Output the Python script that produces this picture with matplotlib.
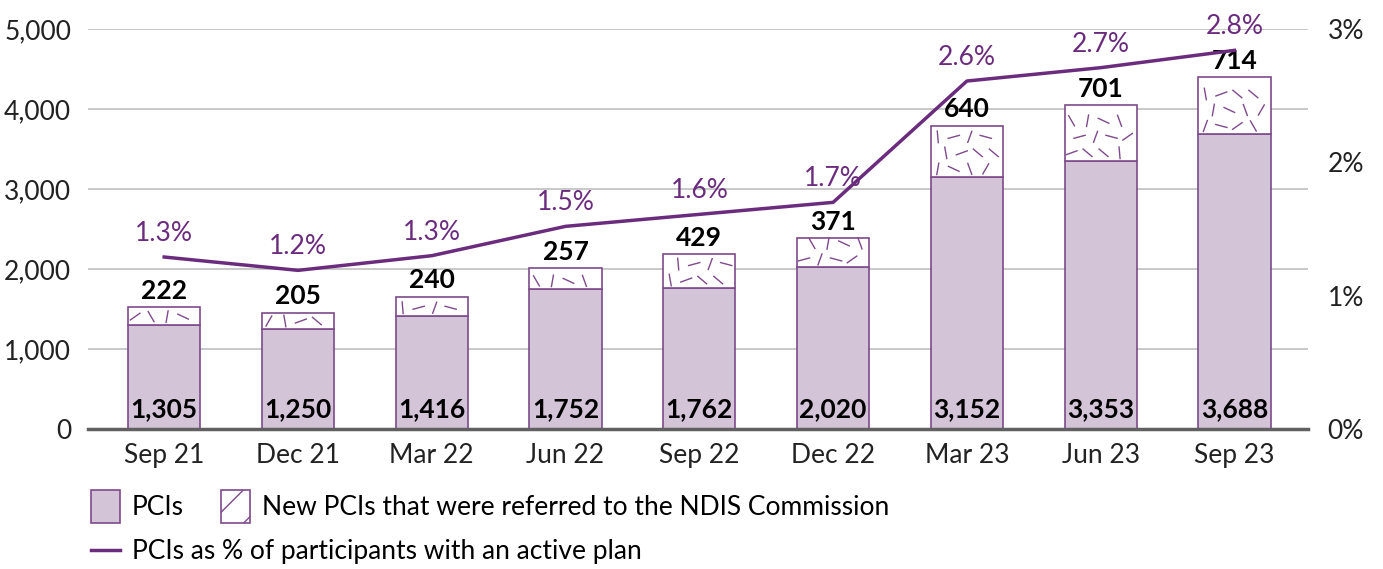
import numpy as np
import matplotlib.pyplot as plt
from matplotlib.patches import Patch
from matplotlib.lines import Line2D
from matplotlib.collections import LineCollection
from matplotlib.ticker import FuncFormatter

plt.rcParams['font.family'] = ['Lato', 'DejaVu Sans']
plt.rcParams['hatch.color'] = "#7E4A8C"

quarters = ["Sep 21", "Dec 21", "Mar 22", "Jun 22", "Sep 22", "Dec 22", "Mar 23", "Jun 23", "Sep 23"]
pcis = [1305, 1250, 1416, 1752, 1762, 2020, 3152, 3353, 3688]
referred = [222, 205, 240, 257, 429, 371, 640, 701, 714]
pct_active = [1.29, 1.19, 1.30, 1.52, 1.61, 1.70, 2.61, 2.71, 2.84]

fill_col = "#D4C4D8"
edge_col = "#7E4A8C"
line_col = "#6B2C7E"
fs = 19

fig = plt.figure(figsize=(13.83, 5.69), dpi=100)
ax = fig.add_axes([0.0636, 0.246, 0.8822, 0.703])
ax2 = ax.twinx()

x = np.arange(len(quarters))
w = 0.54
b1 = ax.bar(x, pcis, w, color=fill_col, edgecolor=edge_col, linewidth=1.2, zorder=3)
b2 = ax.bar(x, referred, w, bottom=pcis, color="white", edgecolor=edge_col, linewidth=1.2, zorder=3)

ax.set_xlim(-0.57, len(quarters) - 0.45)
ax.set_ylim(0, 5000)
ax.set_yticks(range(0, 5001, 1000))
ax.yaxis.set_major_formatter(FuncFormatter(lambda v, p: f"{int(v):,}"))
ax.grid(axis="y", color="#BFBFBF", linewidth=1.2, zorder=0)
ax.set_axisbelow(True)
for s in ["top", "right", "left"]:
    ax.spines[s].set_visible(False)
ax.spines["bottom"].set_color("#606060")
ax.spines["bottom"].set_linewidth(2.5)
ax.spines["bottom"].set_zorder(5)
ax.tick_params(axis="y", length=0, pad=12, labelsize=fs, labelcolor="#222222")
ax.tick_params(axis="x", length=0, pad=10, labelsize=fs, labelcolor="#222222")
ax.set_xticks(x)
ax.set_xticklabels(quarters)

# dash texture inside the top segments (decorative, fixed pattern)
fig.canvas.draw()
angles = [35, -60, 80, -25, 110, 60, -80, 20, 140, -40, 95, 15, 70, -15]
inv = ax.transData.inverted()
for i, bar in enumerate(b2):
    x0, y0 = bar.get_x(), bar.get_y()
    x1, y1 = x0 + bar.get_width(), y0 + bar.get_height()
    p0 = ax.transData.transform((x0, y0))
    p1 = ax.transData.transform((x1, y1))
    segs = []
    k = i * 5
    yy = p0[1] + 8
    row = 0
    while yy < p1[1] - 2:
        xx = p0[0] + 7 + (row % 2) * 8
        while xx < p1[0] - 2:
            a = np.deg2rad(angles[k % len(angles)])
            d = 6.5 * np.array([np.cos(a), np.sin(a)])
            c = np.array([xx, yy])
            segs.append(inv.transform([c - d, c + d]))
            k += 1
            xx += 16
        yy += 16
        row += 1
    lc = LineCollection(segs, colors=edge_col, linewidths=1.0, zorder=4)
    lc.set_clip_path(bar)
    ax.add_collection(lc)

for i in range(len(quarters)):
    ax.annotate(f"{pcis[i]:,}", (x[i], 0), xytext=(0, 6), textcoords="offset points",
                ha="center", va="bottom", fontsize=fs, fontweight="bold", zorder=6)
    ax.annotate(f"{referred[i]:,}", (x[i], pcis[i] + referred[i]), xytext=(0, 3),
                textcoords="offset points", ha="center", va="bottom",
                fontsize=fs, fontweight="bold", zorder=6)

ax2.plot(x, pct_active, color=line_col, linewidth=2.5, zorder=5)
ax2.set_ylim(0, 3)
ax2.set_yticks([0, 1, 2, 3])
ax2.yaxis.set_major_formatter(FuncFormatter(lambda v, p: f"{int(v)}%"))
ax2.tick_params(axis="y", length=0, pad=14, labelsize=fs, labelcolor="#222222")
for s in ax2.spines.values():
    s.set_visible(False)
for i in range(len(quarters)):
    ax2.annotate(f"{pct_active[i]:.1f}%", (x[i], pct_active[i]), xytext=(0, 8),
                 textcoords="offset points", ha="center", va="bottom",
                 fontsize=fs, color=line_col)

h1 = Patch(facecolor=fill_col, edgecolor=edge_col, linewidth=1.2)
h2 = Patch(facecolor="white", edgecolor=edge_col, linewidth=1.2, hatch="/")
h3 = Line2D([0], [0], color=line_col, linewidth=2.5)
fig.legend([h1, h2], ["PCIs", "New PCIs that were referred to the NDIS Commission"],
           ncol=2, loc="center left", bbox_to_anchor=(0.058, 0.11), frameon=False,
           fontsize=fs, handlelength=1.1, handleheight=1.5, handletextpad=0.45,
           columnspacing=1.4, borderaxespad=0)
fig.legend([h3], ["PCIs as % of participants with an active plan"],
           loc="center left", bbox_to_anchor=(0.058, 0.03), frameon=False,
           fontsize=fs, handlelength=1.1, handletextpad=0.45, borderaxespad=0)

fig.savefig("out.png", dpi=100)
